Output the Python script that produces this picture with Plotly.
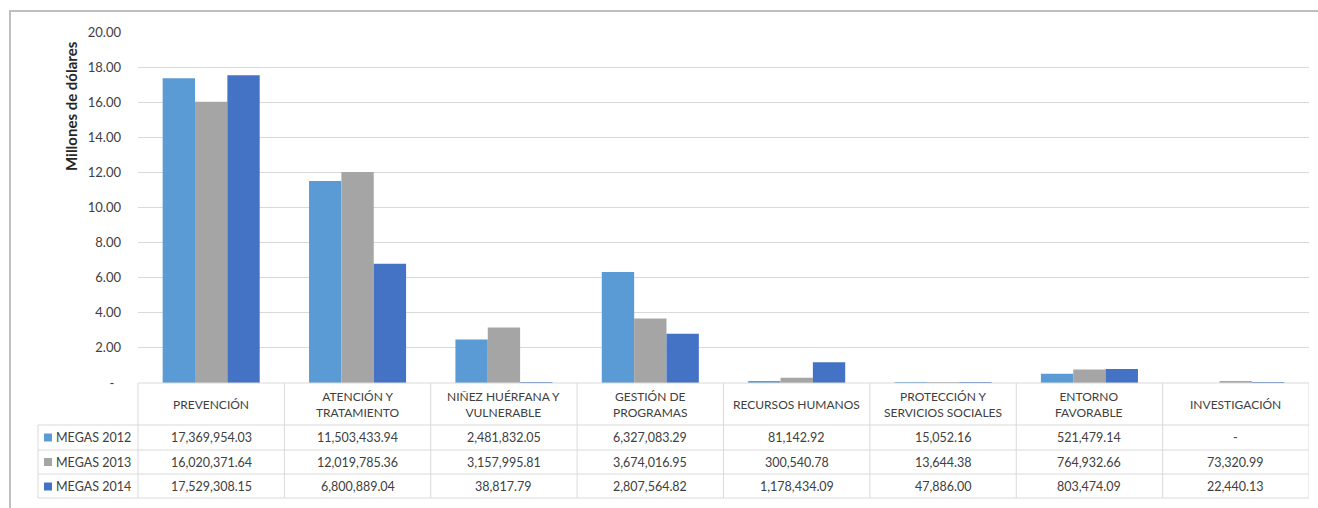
import plotly.graph_objects as go

# Categories and yearly MEGAS spending (US dollars)
categories = [
    "PREVENCIÓN",
    "ATENCIÓN Y<br>TRATAMIENTO",
    "NIÑEZ HUÉRFANA Y<br>VULNERABLE",
    "GESTIÓN DE<br>PROGRAMAS",
    "RECURSOS HUMANOS",
    "PROTECCIÓN Y<br>SERVICIOS SOCIALES",
    "ENTORNO<br>FAVORABLE",
    "INVESTIGACIÓN",
]
series_names = ["MEGAS 2012", "MEGAS 2013", "MEGAS 2014"]
megas_2012 = [17369954.03, 11503433.94, 2481832.05, 6327083.29, 81142.92, 15052.16, 521479.14, None]
megas_2013 = [16020371.64, 12019785.36, 3157995.81, 3674016.95, 300540.78, 13644.38, 764932.66, 73320.99]
megas_2014 = [17529308.15, 6800889.04, 38817.79, 2807564.82, 1178434.09, 47886.00, 803474.09, 22440.13]
series_values = [megas_2012, megas_2013, megas_2014]
series_colors = ["#5B9BD5", "#A5A5A5", "#4472C4"]
y_ticks = [0, 2, 4, 6, 8, 10, 12, 14, 16, 18, 20]
y_ticktext = ["-\u00a0\u00a0"] + [f"{v:.2f}" for v in y_ticks[1:]]

W, H = 1318, 508
L, R, T, B = 138, 1309, 32, 383  # plot area in pixels
PW, PH = R - L, B - T


def py(p):
    """Pixel row -> paper y."""
    return (B - p) / PH


def px(p):
    """Pixel column -> paper x."""
    return (p - L) / PW


FONT = "Lato"
TXT = "#404040"
GRID = "#D9D9D9"

fig = go.Figure()
xs = list(range(len(categories)))
for name, vals, col in zip(series_names, series_values, series_colors):
    fig.add_trace(go.Bar(
        x=xs,
        y=[None if v is None else v / 1e6 for v in vals],
        name=name,
        marker=dict(color=col, line=dict(width=0)),
        showlegend=False,
        hoverinfo="skip",
    ))

shapes = []
annotations = []

# Data table: grid lines
line_style = dict(color=GRID, width=1)
shapes.append(dict(type="line", xref="paper", yref="paper", x0=0, x1=1, y0=py(383), y1=py(383), line=line_style))
for row_y in [425, 450, 474, 498]:
    shapes.append(dict(type="line", xref="paper", yref="paper", x0=px(38), x1=1, y0=py(row_y), y1=py(row_y), line=line_style))
shapes.append(dict(type="line", xref="paper", yref="paper", x0=px(38), x1=px(38), y0=py(425), y1=py(498), line=line_style))
shapes.append(dict(type="line", xref="paper", yref="paper", x0=0, x1=0, y0=py(383), y1=py(498), line=line_style))
for i in xs:
    shapes.append(dict(type="line", xref="x", yref="paper", x0=i + 0.5, x1=i + 0.5, y0=py(383), y1=py(498), line=line_style))

# Category headers
for i, cat in enumerate(categories):
    annotations.append(dict(x=i, y=py(404), xref="x", yref="paper", text=cat, showarrow=False,
                            font=dict(family=FONT, size=12, color=TXT), align="center",
                            xanchor="center", yanchor="middle"))

# Value rows and legend keys
row_centers = [437.5, 462, 486.5]
for r, (name, vals, col) in enumerate(zip(series_names, series_values, series_colors)):
    yc = row_centers[r]
    shapes.append(dict(type="rect", xref="paper", yref="paper", x0=px(44), x1=px(52),
                       y0=py(yc + 4), y1=py(yc - 4), fillcolor=col, line=dict(width=0)))
    annotations.append(dict(x=px(54), y=py(yc), xref="paper", yref="paper", text=name, showarrow=False,
                            font=dict(family=FONT, size=12.5, color=TXT), xanchor="left", yanchor="middle"))
    for i, v in enumerate(vals):
        label = "-" if not v else f"{v:,.2f}"
        annotations.append(dict(x=i, y=py(yc), xref="x", yref="paper", text=label, showarrow=False,
                                font=dict(family=FONT, size=12.5, color=TXT), xanchor="center", yanchor="middle"))

# Axis title
annotations.append(dict(x=px(71), y=py(106), xref="paper", yref="paper", text="<b>Millones de dólares</b>",
                        textangle=-90, showarrow=False, font=dict(family=FONT, size=15, color="#262626"),
                        xanchor="center", yanchor="middle"))

# Chart frame
shapes.append(dict(type="rect", xref="paper", yref="paper", x0=px(10), x1=px(1340), y0=py(11), y1=py(530),
                   line=dict(color="#BFBFBF", width=2), fillcolor="rgba(0,0,0,0)"))

fig.update_layout(
    width=W, height=H,
    margin=dict(l=L, r=W - R, t=T, b=H - B, pad=0),
    paper_bgcolor="white", plot_bgcolor="white",
    barmode="group", bargap=0.337, bargroupgap=0,
    shapes=shapes, annotations=annotations,
    xaxis=dict(range=[-0.5, len(categories) - 0.5], showticklabels=False, showgrid=False,
               zeroline=False, showline=False, fixedrange=True),
    yaxis=dict(range=[0, 20], tickvals=y_ticks, ticktext=y_ticktext, showgrid=True, gridcolor=GRID,
               gridwidth=1, zeroline=False, showline=False, ticklabelstandoff=16,
               tickfont=dict(family=FONT, size=13, color=TXT), fixedrange=True),
    font=dict(family=FONT),
)

fig.write_html("out.html")
